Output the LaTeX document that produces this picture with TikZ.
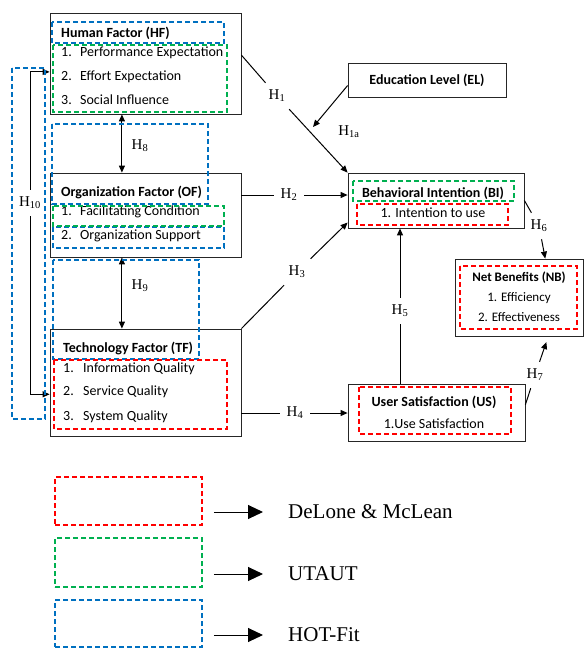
\documentclass[tikz,border=0pt]{standalone}
\usepackage{fontspec}
\setmainfont{Liberation Serif}
\newfontfamily\carlito{Carlito}
\usetikzlibrary{arrows.meta,calc}

\definecolor{dmred}{RGB}{255,0,0}
\definecolor{utgreen}{RGB}{0,176,80}
\definecolor{hotblue}{RGB}{0,112,192}

\newcommand\nitem[3][19pt]{\makebox[#1][l]{#2.}#3}

\tikzset{
  fbox/.style={draw=black!85, line width=0.8pt, inner sep=0pt},
  ttl/.style={font=\carlito\bfseries\fontsize{14}{16}\selectfont, inner sep=0pt},
  itm/.style={font=\carlito\fontsize{14}{16}\selectfont, inner sep=0pt},
  hyp/.style={font=\fontsize{15}{17}\selectfont, inner sep=7pt},
  conn/.style={draw=black, line width=1pt},
  arr/.style={conn, -{Triangle[length=7pt,width=6pt]}},
  dblarr/.style={conn, {Triangle[length=7pt,width=6pt]}-{Triangle[length=7pt,width=6pt]}},
  bigarr/.style={-{Triangle[length=15pt,width=14pt]}, line width=1pt},
  frame/.style={line width=1.6pt, dash pattern=on 5pt off 3pt, draw=#1},
  lgd/.style={font=\fontsize{21}{24}\selectfont, anchor=west, inner sep=3pt}
}

\begin{document}
\begin{tikzpicture}[x=1pt,y=-1pt]
\useasboundingbox (0,0) rectangle (584,648);

% main boxes
\node[fbox, minimum width=191pt, minimum height=101pt] (hf) at (145.5,63.5) {};
\node[fbox, minimum width=191pt, minimum height=84pt] (of) at (145.5,215) {};
\node[fbox, minimum width=191pt, minimum height=107pt] (tf) at (145.5,382.5) {};
\node[fbox, minimum width=158pt, minimum height=34pt] (el) at (427,80) {};
\node[fbox, minimum width=176pt, minimum height=55pt] (bi) at (436,200.5) {};
\node[fbox, minimum width=177pt, minimum height=57pt] (us) at (436.5,412.5) {};
\node[fbox, minimum width=128pt, minimum height=77pt] (nb) at (519,297.5) {};

% texts
\node[ttl, anchor=west] (hft) at (61,33) {Human Factor (HF)};
\node[itm, anchor=west] (hf1) at (61,53) {\nitem{1}{Performance Expectation}};
\node[itm, anchor=west] (hf2) at (61,77) {\nitem{2}{Effort Expectation}};
\node[itm, anchor=west] (hf3) at (61,100) {\nitem{3}{Social Influence}};

\node[ttl, anchor=west] (oft) at (61,192) {Organization Factor (OF)};
\node[itm, anchor=west] (of1) at (61,212) {\nitem{1}{Facilitating Condition}};
\node[itm, anchor=west] (of2) at (61,236) {\nitem{2}{Organization Support}};

\node[ttl, anchor=west] (tft) at (63,348) {Technology Factor (TF)};
\node[itm, anchor=west] (tf1) at (63,369) {\nitem[20pt]{1}{Information Quality}};
\node[itm, anchor=west] (tf2) at (63,392) {\nitem[20pt]{2}{Service Quality}};
\node[itm, anchor=west] (tf3) at (63,417) {\nitem[20pt]{3}{System Quality}};

\node[ttl] (elt) at (427,80) {Education Level (EL)};
\node[ttl] (bit) at (433,193) {Behavioral Intention (BI)};
\node[itm] (bi1) at (433,213) {1. Intention to use};
\node[ttl] (ust) at (434,402) {User Satisfaction (US)};
\node[itm] (us1) at (434,424) {1.Use Satisfaction};
\node[ttl, font=\carlito\bfseries\fontsize{13}{15}\selectfont] (nbt) at (519,278) {Net Benefits (NB)};
\node[itm, font=\carlito\fontsize{13}{15}\selectfont] (nb1) at (519,298) {1. Efficiency};
\node[itm, font=\carlito\fontsize{13}{15}\selectfont] (nb2) at (519,317) {2. Effectiveness};

% hypotheses
\node[hyp] (h1) at (277,96) {H\textsubscript{1}};
\node[hyp] (h1a) at (349,132) {H\textsubscript{1a}};
\node[hyp] (h2) at (289,195) {H\textsubscript{2}};
\node[hyp] (h3) at (297,272) {H\textsubscript{3}};
\node[hyp] (h4) at (295,413) {H\textsubscript{4}};
\node[hyp] (h5) at (400,311) {H\textsubscript{5}};
\node[hyp] (h6) at (539,226) {H\textsubscript{6}};
\node[hyp] (h7) at (535,375) {H\textsubscript{7}};
\node[hyp] (h8) at (140,146) {H\textsubscript{8}};
\node[hyp] (h9) at (140,286) {H\textsubscript{9}};
\node[hyp] (h10) at (30,203) {H\textsubscript{10}};
\coordinate (h1aend) at (313,127);

\draw[conn] (hf.5) -- (h1);
\draw[conn] (of.east |- h2) -- (h2);
\draw[conn] (tf.north east) -- (h3);
\draw[conn] (tf.east |- h4) -- (h4);
\draw[conn] (us.north -| h5) -- (h5);
\draw[conn] (bi.east) -- (h6);
\draw[conn] (us.5) -- (h7);
\draw[arr] (h1) -- (bi.north west);
\draw[arr] (el.184) -- (h1aend);
\draw[arr] (h2) -- (bi.west |- h2);
\draw[arr] (h3) -- (bi.194);
\draw[arr] (h4) -- (us.west |- h4);
\draw[arr] (h5) -- (bi.south -| h5);
\draw[arr] (h6) -- (nb.56);
\draw[arr, shorten >=6pt] (h7) -- (nb.-53);
\draw[dblarr] ($(hf.south west)!0.377!(hf.south east)$) -- ($(of.north west)!0.377!(of.north east)$);
\draw[dblarr] ($(of.south west)!0.377!(of.south east)$) -- ($(tf.north west)!0.377!(tf.north east)$);
\draw[arr] (h10) |- (hf.185);
\draw[arr] (h10) |- (tf.187);

% model frames
\draw[frame=hotblue] (52,22) rectangle (224,43);
\draw[frame=hotblue] (52,124) rectangle (208,204);
\draw[frame=hotblue] (53,227) rectangle (224,248);
\draw[frame=hotblue] (53,260) rectangle (199,359);
\draw[frame=hotblue] (12,68) rectangle (45,419);
\draw[frame=utgreen] (53,45) rectangle (227,112);
\draw[frame=utgreen] (53,206) rectangle (224,226);
\draw[frame=utgreen] (353,181) rectangle (514,201);
\draw[frame=dmred] (54,360) rectangle (227,429);
\draw[frame=dmred] (357,204) rectangle (508,225);
\draw[frame=dmred] (359,387) rectangle (511,434);
\draw[frame=dmred] (460,266) rectangle (577,329);

% legend
\node[frame=dmred, minimum width=147pt, minimum height=48pt] (lr) at (128.5,501) {};
\node[frame=utgreen, minimum width=147pt, minimum height=49pt] (lg) at (128.5,562.5) {};
\node[frame=hotblue, minimum width=147pt, minimum height=47pt] (lb) at (128.5,623.5) {};
\node[lgd] (tr) at (285,512) {DeLone \& McLean};
\node[lgd] (tg) at (285,574) {UTAUT};
\node[lgd] (tb) at (285,635) {HOT-Fit};
\draw[bigarr, shorten <=11pt, shorten >=22pt] (lr.east |- tr) -- (tr.west);
\draw[bigarr, shorten <=11pt, shorten >=22pt] (lg.east |- tg) -- (tg.west);
\draw[bigarr, shorten <=11pt, shorten >=22pt] (lb.east |- tb) -- (tb.west);
\end{tikzpicture}
\end{document}
